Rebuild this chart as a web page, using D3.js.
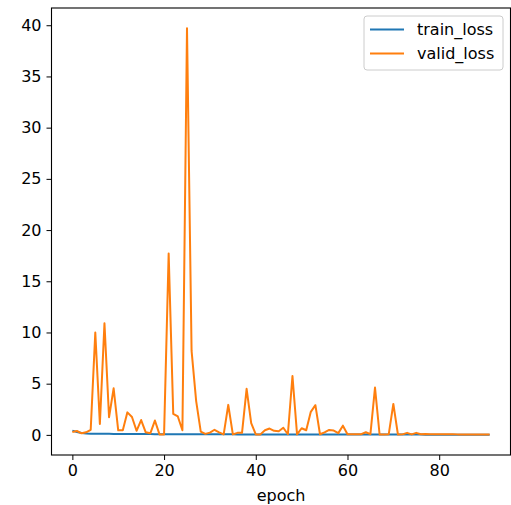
<!DOCTYPE html>
<html>
<head>
<meta charset="utf-8">
<script src="https://cdn.jsdelivr.net/npm/d3@7"></script>
<style>
  body{margin:0;background:#fff;}
  text{font-family:"DejaVu Sans",sans-serif;}
</style>
</head>
<body>
<div id="chart"></div>
<script>
// loss curves per epoch
var epochs = d3.range(0, 92);
var validLoss = [0.28,0.38,0.15,0.25,0.5,10.0,1.07,10.9,1.72,4.55,
  0.45,0.45,2.2,1.75,0.4,1.45,0.25,0.15,1.4,0.05,
  0.05,17.7,2.05,1.8,0.45,39.7,8.2,3.3,0.32,0.1,
  0.22,0.5,0.25,0.05,2.93,0.05,0.2,0.2,4.5,1.14,
  0.05,0.05,0.45,0.62,0.4,0.35,0.7,0.06,5.75,0.05,
  0.65,0.45,2.25,2.9,0.06,0.24,0.48,0.42,0.17,0.9,
  0.07,0.07,0.07,0.07,0.26,0.07,4.62,0.04,0.04,0.07,
  3.02,0.04,0.05,0.2,0.05,0.2,0.07,0.08,0.07,0.07,
  0.07,0.06,0.06,0.06,0.05,0.05,0.05,0.05,0.04,0.04,
  0.04,0.04];
var trainLoss = [0.42,0.28,0.18,0.14,0.12,0.11,0.1,0.1,0.1,0.09,
  0.09,0.09,0.09,0.08,0.08,0.08,0.08,0.08,0.07,0.07,
  0.07,0.07,0.07,0.07,0.07,0.07,0.07,0.06,0.06,0.06,
  0.06,0.06,0.06,0.06,0.06,0.06,0.05,0.05,0.05,0.05,
  0.05,0.05,0.05,0.05,0.05,0.05,0.04,0.04,0.04,0.04,
  0.04,0.04,0.04,0.04,0.04,0.04,0.04,0.04,0.04,0.03,
  0.03,0.03,0.03,0.03,0.03,0.03,0.03,0.03,0.03,0.03,
  0.03,0.03,0.03,0.03,0.03,0.03,0.03,0.02,0.02,0.02,
  0.02,0.02,0.02,0.02,0.02,0.02,0.02,0.02,0.02,0.02,
  0.02,0.02];
var xTicks = [0,20,40,60,80];
var yTicks = [0,5,10,15,20,25,30,35,40];

var W = 511, H = 505, FS = "16px";
var margin = {top:8,right:0.5,bottom:50,left:51.5},
w = W - margin.left - margin.right,
h = H - margin.top - margin.bottom;

var svg = d3.select("#chart").append("svg")
  .attr("width",W).attr("height",H)
  .append("g")
  .attr("transform",`translate(${margin.left},${margin.top})`);

// matplotlib style 5% padding
var xPad = (d3.max(epochs)-d3.min(epochs))*0.05;
var xScale = d3.scaleLinear()
  .domain([d3.min(epochs)-xPad, d3.max(epochs)+xPad]).range([0,w]);
var yMin = Math.min(d3.min(validLoss), d3.min(trainLoss)),
    yMax = Math.max(d3.max(validLoss), d3.max(trainLoss));
var yPad = (yMax-yMin)*0.05;
var yScale = d3.scaleLinear().domain([yMin-yPad, yMax+yPad]).range([h,0]);

var xAxis = svg.append("g")
  .attr("transform","translate(0,"+h+")")
  .call(d3.axisBottom(xScale).tickValues(xTicks).tickSize(5).tickPadding(5));
var yAxis = svg.append("g")
  .call(d3.axisLeft(yScale).tickValues(yTicks).tickSize(5).tickPadding(5));
[xAxis,yAxis].forEach(function(a){
  a.select(".domain").remove();
  a.selectAll("line").attr("stroke","#000").attr("stroke-width",1);
  a.selectAll("text").attr("fill","#000").style("font-size",FS)
    .style("font-family","DejaVu Sans, sans-serif");
});

var line = function(vals){
  return d3.line()
    .x(function(d,i){return xScale(epochs[i]);})
    .y(function(d){return yScale(d);})(vals);
};

svg.append("path").attr("d",line(trainLoss))
  .attr("fill","none").attr("stroke","#1f77b4").attr("stroke-width",2);
svg.append("path").attr("d",line(validLoss))
  .attr("fill","none").attr("stroke","#ff7f0e").attr("stroke-width",2)
  .attr("stroke-linejoin","round");

// frame
svg.append("rect").attr("width",w).attr("height",h)
  .attr("fill","none").attr("stroke","#000").attr("stroke-width",1.1);

svg.append("text")
  .attr("x",w/2).attr("y",h+46)
  .attr("text-anchor","middle")
  .style("font-size",FS)
  .text("epoch");

// legend
var names = ["train_loss","valid_loss"], colors = ["#1f77b4","#ff7f0e"];
var lg = svg.append("g").attr("transform","translate("+(w-146.5)+",8)");
lg.append("rect").attr("width",139).attr("height",54).attr("rx",3)
  .attr("fill","#fff").attr("fill-opacity",0.8)
  .attr("stroke","#ccc").attr("stroke-width",1);
names.forEach(function(n,i){
  lg.append("line").attr("x1",6).attr("x2",40)
    .attr("y1",13.5+i*24).attr("y2",13.5+i*24)
    .attr("stroke",colors[i]).attr("stroke-width",2);
  lg.append("text").attr("x",53).attr("y",19+i*24)
    .style("font-size",FS).text(n);
});
</script>
</body>
</html>
